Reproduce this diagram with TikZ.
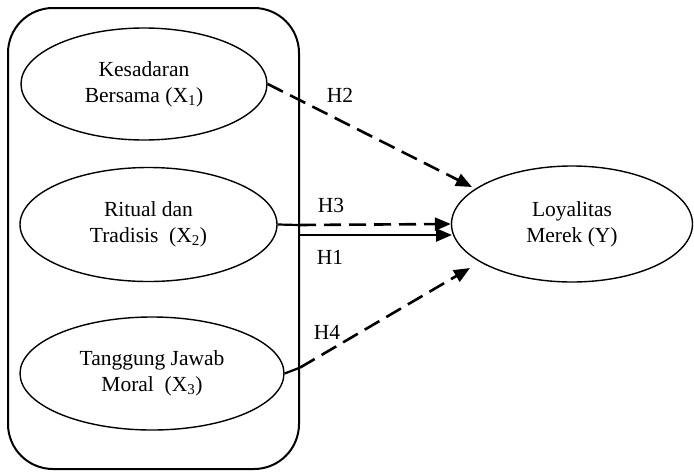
\documentclass[tikz,border=0pt]{standalone}
\usepackage{fontspec}
\setmainfont{Liberation Serif}
\usetikzlibrary{shapes.geometric,arrows.meta}
\tikzset{
  var/.style={ellipse,draw,line width=1.4pt,inner sep=0pt,align=center,
    font=\fontsize{21.5}{26}\selectfont},
  hlab/.style={font=\fontsize{21.5}{26}\selectfont,inner sep=0pt},
  conn/.style={line width=2.6pt,-{Triangle[length=16pt,width=13pt]}},
  dconn/.style={conn,dash pattern=on 17pt off 8pt},
  plain/.style={line width=2.2pt}
}
\begin{document}
\begin{tikzpicture}[x=1pt,y=-1pt]
\useasboundingbox (0,0) rectangle (694,472);
\draw[line width=2pt,rounded corners=45pt] (8,8) rectangle (299,469);
\node[var,minimum width=246pt,minimum height=112pt] (X1) at (144,84)
  {Kesadaran\\Bersama (X\textsubscript{1})};
\node[var,minimum width=257pt,minimum height=114pt] (X2) at (148.5,224.5)
  {Ritual dan\\Tradisis~~(X\textsubscript{2})};
\node[var,minimum width=264pt,minimum height=113pt] (X3) at (152,373.5)
  {Tanggung Jawab\\Moral~~(X\textsubscript{3})};
\node[var,minimum width=241pt,minimum height=116pt] (Y) at (572,224)
  {Loyalitas\\Merek (Y)};
\coordinate (t2) at (472,187);
\coordinate (b3) at (299,225);
\coordinate (b1) at (299,235);
\coordinate (t1) at (452,235);
\coordinate (b4) at (300,367.6);
\coordinate (t4) at (470,268);
\draw[dconn] (X1.east) -- (t2);
\draw[plain] (X2.east) -- (b3);
\draw[dconn] (b3) -- (Y.west);
\draw[conn] (b1) -- (t1);
\draw[plain] (X3.east) -- (b4);
\draw[dconn] (b4) -- (t4);
\node[hlab] (H2) at (340,95) {H2};
\node[hlab] (H3) at (331,205) {H3};
\node[hlab] (H1) at (330,257) {H1};
\node[hlab] (H4) at (327,332) {H4};
\end{tikzpicture}
\end{document}
